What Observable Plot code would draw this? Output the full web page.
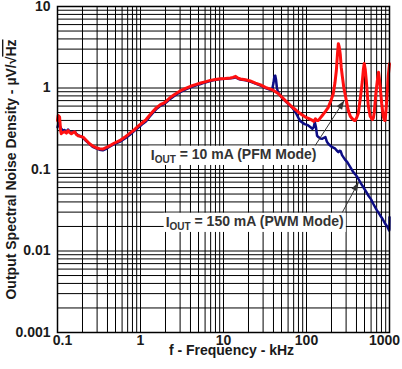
<!DOCTYPE html>
<html><head><meta charset="utf-8">
<script src="https://cdn.jsdelivr.net/npm/d3@7"></script>
<script src="https://cdn.jsdelivr.net/npm/@observablehq/plot@0.6"></script>
<style>
body{margin:0;background:#fff;}
#chart svg{display:block;font-family:"Liberation Sans",Arial,sans-serif;}
</style></head><body><div id="chart"></div>
<script>
// PFM mode, IOUT = 10 mA (red)
const pfmFreq = [0.100,0.102,0.106,0.109,0.111,0.116,0.122,0.128,0.134,0.140,0.147,0.154,0.161,0.168,0.176,0.190,0.203,0.22,0.244,0.265,0.292,0.32,0.352,0.38,0.424,0.48,0.56,0.65,0.74,0.85,0.97,1.07,1.17,1.28,1.40,1.55,1.65,1.75,1.9,2.05,2.3,2.6,3.0,3.5,4.0,4.6,5.3,6.0,6.9,8.0,9.2,10.5,12.1,13.0,14.0,15,16,18.4,21,24.3,28,32,38.9,46,50,55.7,61,67.6,74,80,88,97,107,117.8,123,128,133,139,147,155,170,183,197,210,220,229,236,242,248,255,262,270,282,294,306,319,337,356,375,387,405,421,445,470,485,496,510,525,540,555,585,620,640,655,685,711,738,755,773,805,840,870,887,910,938,965,1000];
const pfmNoise = [0.40,0.46,0.44,0.30,0.275,0.285,0.29,0.28,0.30,0.285,0.275,0.285,0.29,0.27,0.26,0.255,0.25,0.23,0.207,0.195,0.185,0.18,0.178,0.185,0.195,0.21,0.226,0.25,0.277,0.31,0.35,0.38,0.41,0.46,0.51,0.57,0.60,0.63,0.65,0.69,0.77,0.84,0.92,0.99,1.05,1.10,1.15,1.19,1.24,1.27,1.30,1.31,1.33,1.35,1.39,1.32,1.29,1.26,1.22,1.15,1.09,1.02,0.95,0.85,0.78,0.70,0.64,0.58,0.54,0.505,0.47,0.44,0.42,0.40,0.39,0.42,0.40,0.40,0.43,0.46,0.52,0.58,0.70,0.85,1.15,1.64,2.6,3.5,3.2,2.6,1.8,1.4,1.0,0.81,0.65,0.53,0.45,0.42,0.40,0.40,0.44,0.49,0.75,1.2,1.7,2.0,1.7,1.24,0.85,0.6,0.45,0.41,0.43,0.50,0.85,1.2,1.56,1.3,1.02,0.65,0.45,0.40,0.40,0.55,0.85,1.4,1.98];
// PWM mode, IOUT = 150 mA (blue)
const pwmFreq = [0.100,0.103,0.106,0.110,0.116,0.122,0.128,0.134,0.140,0.147,0.154,0.161,0.168,0.176,0.190,0.203,0.22,0.244,0.265,0.292,0.32,0.352,0.38,0.424,0.48,0.56,0.65,0.74,0.85,0.97,1.07,1.17,1.28,1.40,1.55,1.65,1.75,1.9,2.05,2.3,2.6,3.0,3.5,4.0,4.6,5.3,6.0,6.9,8.0,9.2,10.5,12.1,13.0,14.0,15,16,18.4,21,24.3,28,32,36,38.5,40,41,42,43,44,45.5,50,55.7,61,67.6,74,80,84.5,95,104,112,117.8,122,126,130,134,139,147,155,162,169,176,183,195,205,222,235,242,250,258,268,278,295,310,337,366,395,421,450,483,520,555,600,637,700,773,830,887,940,990,997,1000];
const pwmNoise = [0.33,0.37,0.35,0.32,0.30,0.305,0.29,0.31,0.29,0.28,0.29,0.295,0.275,0.265,0.255,0.245,0.225,0.205,0.19,0.182,0.175,0.172,0.178,0.19,0.205,0.218,0.24,0.265,0.30,0.335,0.365,0.39,0.44,0.49,0.55,0.58,0.61,0.63,0.67,0.74,0.81,0.89,0.96,1.02,1.07,1.12,1.17,1.22,1.26,1.29,1.30,1.32,1.33,1.35,1.30,1.27,1.24,1.20,1.13,1.07,1.00,0.96,0.95,1.15,1.38,1.42,1.25,1.0,0.88,0.77,0.69,0.63,0.57,0.50,0.43,0.39,0.36,0.35,0.33,0.316,0.33,0.38,0.33,0.26,0.25,0.24,0.238,0.245,0.25,0.22,0.207,0.195,0.188,0.18,0.168,0.163,0.17,0.168,0.15,0.142,0.13,0.123,0.107,0.093,0.085,0.077,0.068,0.061,0.054,0.048,0.043,0.038,0.032,0.0273,0.0245,0.0216,0.020,0.0178,0.0185,0.026];

const xTickValues = [0.1, 1, 10, 100, 1000];
const yTickValues = [0.001, 0.01, 0.1, 1, 10];
const gridMultipliers = [1, 2, 3, 4, 5, 6, 7, 8, 9];

const annotationText = ["IOUT = 10 mA (PFM Mode)", "IOUT = 150 mA (PWM Mode)"];
const annotationFreq = [1.33, 2.01];
const annotationNoise = [0.1486, 0.0224];
const arrowFreqStart = [122.8, 252];
const arrowNoiseStart = [0.186, 0.0261];
const arrowFreqEnd = [285, 424];
const arrowNoiseEnd = [0.703, 0.0699];

const xTitle = "f - Frequency - kHz";
const yTitle = "Output Spectral Noise Density - µV/√Hz";

const pfm = pfmFreq.map((f, i) => ({f, v: pfmNoise[i]}));
const pwm = pwmFreq.map((f, i) => ({f, v: pwmNoise[i]}));
const xGrid = [];
for (const d of xTickValues.slice(0, -1)) for (const m of gridMultipliers) xGrid.push(d * m);
xGrid.push(xTickValues[xTickValues.length - 1]);
const yGrid = [];
for (const d of yTickValues.slice(0, -1)) for (const m of gridMultipliers) yGrid.push(d * m);
yGrid.push(yTickValues[yTickValues.length - 1]);
const annotations = annotationText.map((t, i) => ({t, f: annotationFreq[i], v: annotationNoise[i]}));
const arrows = arrowFreqStart.map((f, i) => ({x1: f, y1: arrowNoiseStart[i], x2: arrowFreqEnd[i], y2: arrowNoiseEnd[i]}));

const fmt = d => String(d);
const plot = Plot.plot({
  width: 402, height: 369,
  marginLeft: 57, marginRight: 13, marginTop: 6, marginBottom: 37,
  style: {fontFamily: '"Liberation Sans", Arial, sans-serif', fontSize: "14px", fontWeight: "bold", color: "#1a1a1a", background: "white"},
  x: {type: "log", domain: [0.1, 1000]},
  y: {type: "log", domain: [0.001, 10]},
  marks: [
    Plot.ruleX(xGrid, {stroke: "#000", strokeWidth: 1}),
    Plot.ruleY(yGrid, {stroke: "#000", strokeWidth: 1}),
    Plot.line(pwm, {x: "f", y: "v", stroke: "#0c0c85", strokeWidth: 2.5}),
    Plot.line(pfm, {x: "f", y: "v", stroke: "#ff1010", strokeWidth: 3}),
    Plot.link(arrows, {x1: "x1", y1: "y1", x2: "x2", y2: "y2", stroke: "#333", strokeWidth: 1, markerEnd: "arrow"}),
    Plot.text(annotations, {x: "f", y: "v", text: "t", textAnchor: "start", lineAnchor: "middle", fill: "#333", fontSize: 14, fontWeight: "bold"}),
    Plot.frame({stroke: "#000", strokeWidth: 1.5}),
    Plot.axisX({ticks: xTickValues, tickSize: 0, tickPadding: 3, tickFormat: fmt, label: null, fontSize: 14, fontWeight: "bold"}),
    Plot.axisY({ticks: yTickValues, tickSize: 0, tickPadding: 7, tickFormat: fmt, label: null, fontSize: 14, fontWeight: "bold"}),
    Plot.text([xTitle], {frameAnchor: "bottom", lineAnchor: "middle", textAnchor: "middle", dy: 18.5, dx: 8, fontSize: 14, fontWeight: "bold", fill: "#1a1a1a"}),
    Plot.text([yTitle], {frameAnchor: "left", rotate: -90, textAnchor: "middle", lineAnchor: "middle", dx: -46, fontSize: 14, fontWeight: "bold", fill: "#1a1a1a"})
  ]
});
document.getElementById("chart").appendChild(plot);

const svg = d3.select(plot);
svg.selectAll("text").each(function () {
  const el = d3.select(this);
  const txt = this.textContent;
  if (txt.startsWith("IOUT")) {
    const rest = txt.slice(4);
    el.text(null);
    el.append("tspan").text("I");
    el.append("tspan").attr("font-size", 10).attr("dy", "0.3em").text("OUT");
    el.append("tspan").attr("dy", "-0.3em").text(rest);
    const bb = this.getBBox();
    const tr = this.getAttribute("transform");
    d3.select(this.parentNode).insert("rect", () => this)
      .attr("x", bb.x - 2).attr("y", bb.y).attr("width", bb.width + 4).attr("height", bb.height)
      .attr("transform", tr).attr("fill", "white").attr("stroke", "none");
  } else if (txt === yTitle) {
    const i = txt.indexOf("Hz");
    el.text(null);
    el.append("tspan").text(txt.slice(0, i));
    el.append("tspan").style("text-decoration", "overline").text("Hz");
  } else if (txt === "0.1" && this.parentNode.getAttribute("aria-label") === "x-axis tick label") {
    el.attr("dx", 5);
  } else if (txt === "1000") {
    el.attr("dx", -5);
  }
});
svg.selectAll("marker").each(function () {
  const m = d3.select(this);
  const col = m.attr("stroke") || "#333";
  m.attr("viewBox", "-10 -5 12 10").attr("markerWidth", 12).attr("markerHeight", 10)
    .attr("fill", col).attr("stroke", "none");
  m.selectAll("path").attr("d", "M-9,-3.2L0,0L-9,3.2Z").attr("fill", col).attr("stroke", "none");
});
</script></body></html>
